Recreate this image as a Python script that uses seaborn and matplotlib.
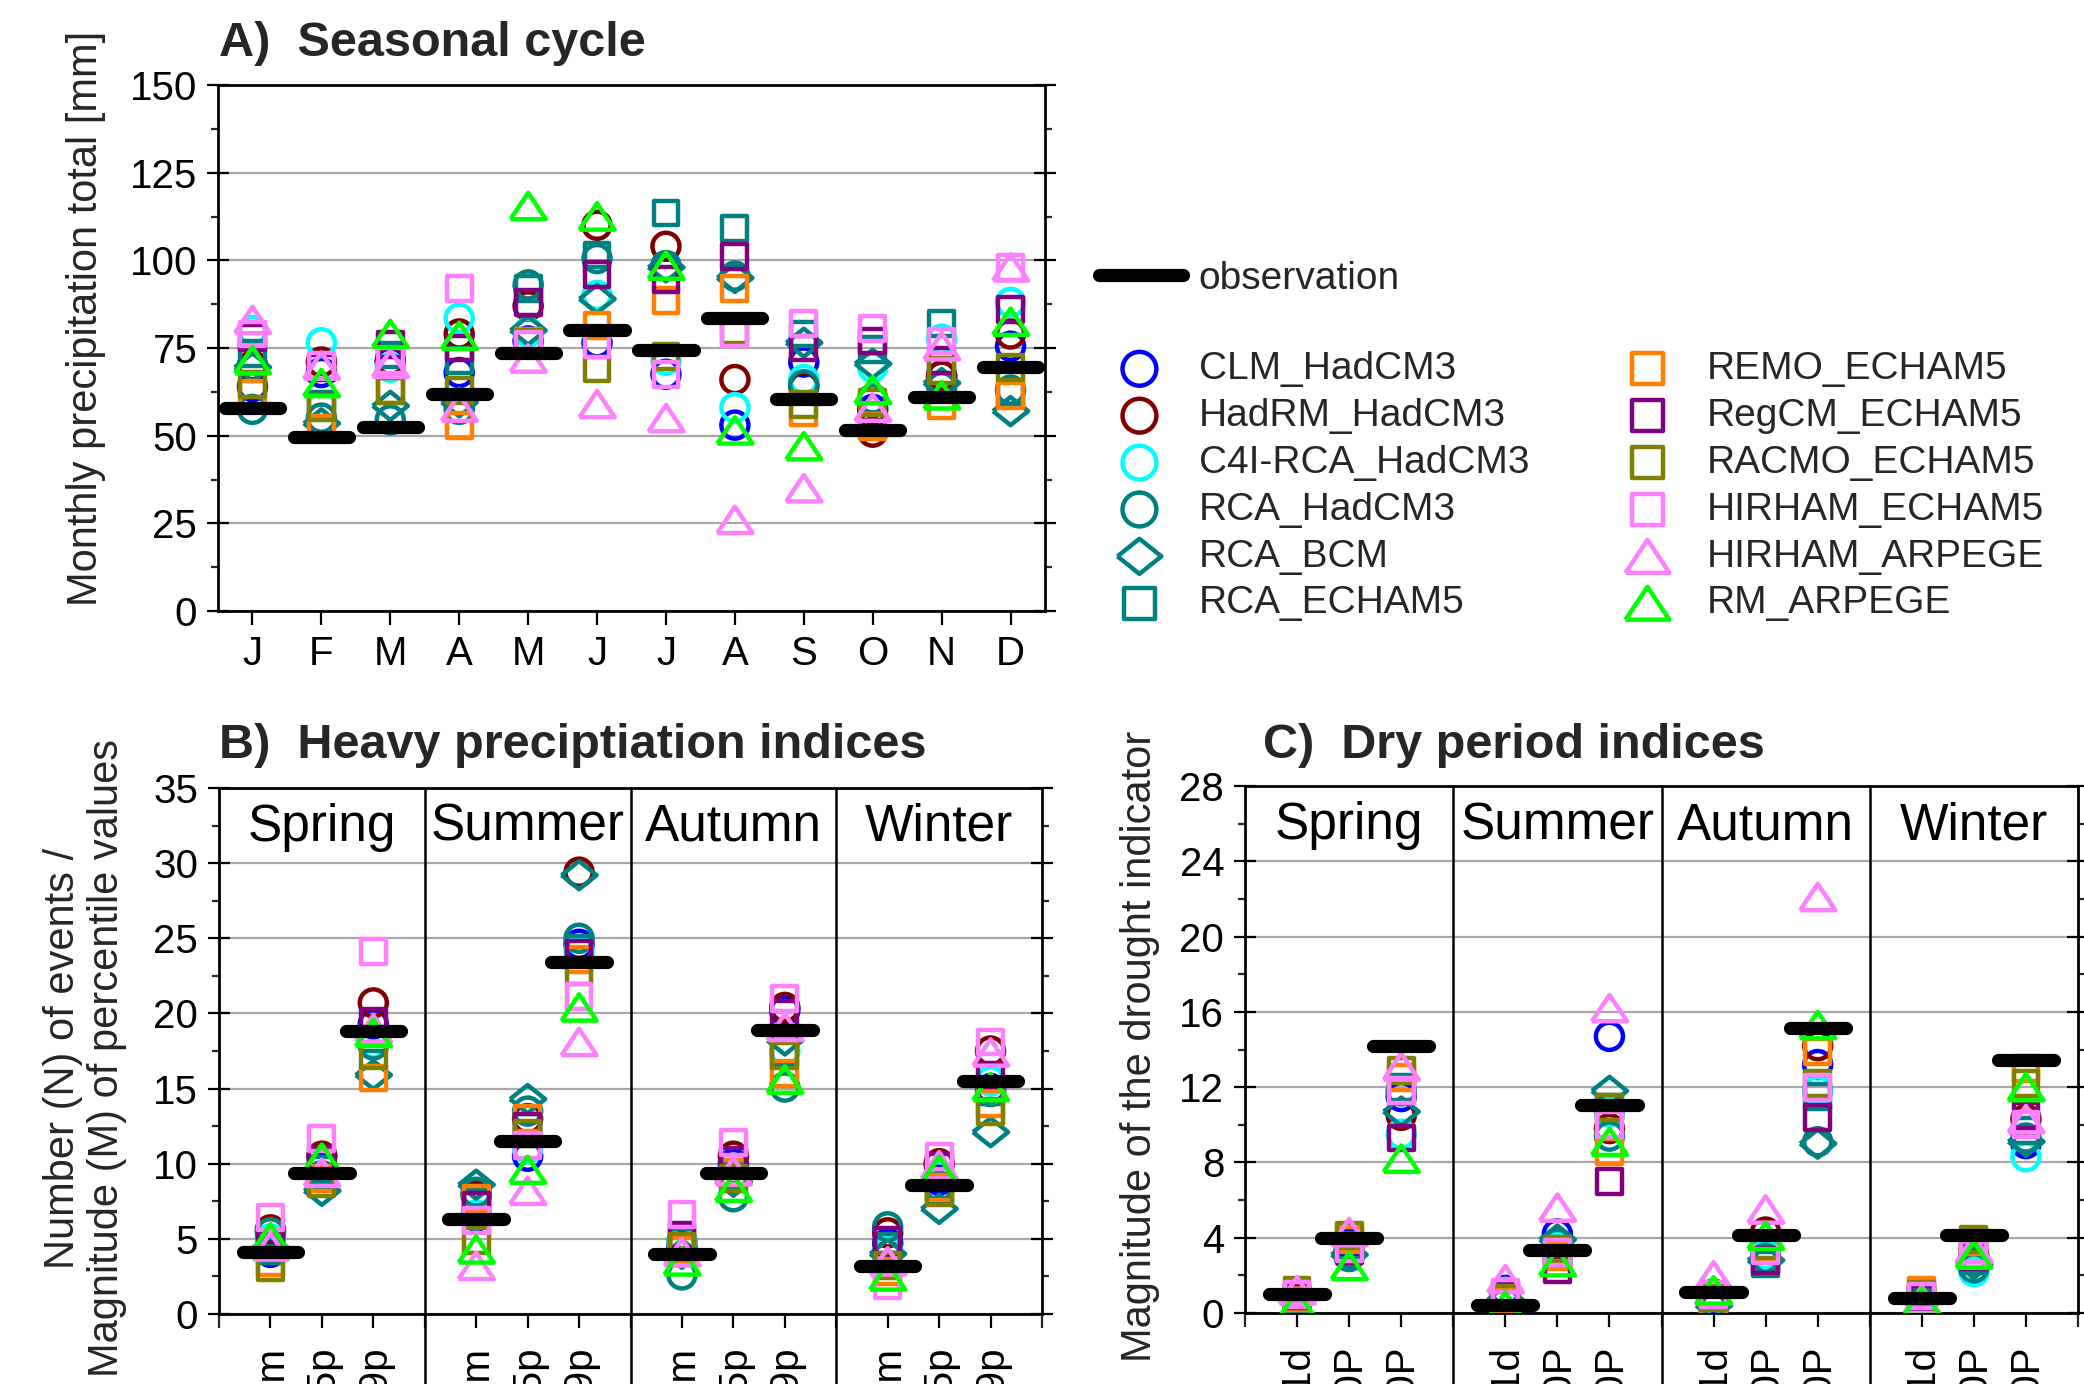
import numpy as np
import pandas as pd
import matplotlib
matplotlib.use("Agg")
import matplotlib.pyplot as plt
import seaborn as sns
from matplotlib.lines import Line2D
from matplotlib.markers import MarkerStyle
from matplotlib.ticker import MultipleLocator

# ---------------- data ----------------
models = ["CLM_HadCM3", "HadRM_HadCM3", "C4I-RCA_HadCM3", "RCA_HadCM3", "RCA_BCM",
          "RCA_ECHAM5", "REMO_ECHAM5", "RegCM_ECHAM5", "RACMO_ECHAM5",
          "HIRHAM_ECHAM5", "HIRHAM_ARPEGE", "RM_ARPEGE"]
model_colors = ["#0000FF", "#800000", "#00FFFF", "#008080", "#008080", "#008080",
                "#FF8000", "#800080", "#808000", "#FF80FF", "#FF80FF", "#00FF00"]
model_shapes = ["circle", "circle", "circle", "circle", "diamond", "square",
                "square", "square", "square", "square", "triangle", "triangle"]

months = ["J", "F", "M", "A", "M", "J", "J", "A", "S", "O", "N", "D"]
seasons = ["Spring", "Summer", "Autumn", "Winter"]
heavy_indices = ["N10mm", "M95p", "M99p"]
dry_indices = ["N1d", "M100P", "M200P"]

# A) monthly precipitation totals [mm], J..D
a_obs           = [58, 49.5, 52.5, 62, 73.5, 80, 74.5, 83.5, 60.5, 51.5, 61, 69.5]
a_clm_hadcm3    = [64, 68, 71, 68, 77, 76.5, 67.5, 53, 71, 57.5, 67, 75.5]
a_hadrm_hadcm3  = [70, 71, 71.5, 79, 87, 110, 104, 66, 64, 51, 67, 79]
a_c4i_hadcm3    = [80, 76.5, 69.5, 83.5, 79.5, 90, 71.5, 58, 66, 69.5, 77.5, 88]
a_rca_hadcm3    = [57.5, 55, 54.5, 57.5, 93, 100.5, 98.5, 95.5, 64.5, 60.5, 64, 63]
a_rca_bcm       = [69.5, 53.5, 58.5, 59.5, 80, 89, 98, 95, 76.5, 70.5, 65, 57]
a_rca_echam5    = [73.5, 59, 73, 71.5, 92, 101.5, 113.5, 109, 79, 74.5, 82, 62]
a_remo_echam5   = [62, 52, 63, 53, 77, 81.5, 88.5, 92, 56.5, 52.5, 58.5, 61.5]
a_regcm_echam5  = [78, 69.5, 76, 75, 88, 96, 94.5, 101, 75, 77, 71.5, 86]
a_racmo_echam5  = [64.5, 58, 63, 63, 76.5, 69, 72.5, 80, 59, 59.5, 68.5, 69.5]
a_hirham_echam5 = [79, 70, 71.5, 92, 76, 76, 67.5, 79, 82, 80.5, 77, 98]
a_hirham_arpege = [83, 70, 70.5, 58, 72, 59, 55, 26, 35, 58, 75.5, 98]
a_rm_arpege     = [71.5, 65, 79, 78.5, 115.5, 112.5, 98.5, 51.5, 47, 63, 61.5, 82.5]

# B) heavy precipitation indices: Spring(3), Summer(3), Autumn(3), Winter(3)
b_obs           = [4.1, 9.4, 18.8, 6.35, 11.5, 23.4, 4.0, 9.4, 18.9, 3.2, 8.6, 15.5]
b_clm_hadcm3    = [4.1, 9.8, 19.3, 6.5, 10.5, 24.6, 4.5, 10.0, 20.2, 4.7, 8.9, 15.0]
b_hadrm_hadcm3  = [5.6, 10.5, 20.7, 7.9, 13.0, 29.4, 4.8, 10.5, 20.4, 5.4, 10.0, 17.5]
b_c4i_hadcm3    = [5.0, 9.1, 18.0, 6.6, 11.0, 24.2, 4.8, 9.3, 17.5, 4.2, 9.2, 15.5]
b_rca_hadcm3    = [5.4, 9.2, 17.9, 8.1, 13.5, 25.0, 2.6, 7.8, 15.1, 5.8, 8.5, 14.8]
b_rca_bcm       = [4.4, 8.2, 15.9, 8.6, 14.3, 29.2, 4.0, 8.8, 18.2, 4.0, 7.0, 12.1]
b_rca_echam5    = [4.2, 9.6, 18.3, 7.4, 12.5, 24.3, 4.8, 9.3, 17.4, 4.5, 8.2, 14.8]
b_remo_echam5   = [3.4, 9.0, 15.7, 7.7, 13.0, 23.6, 4.2, 9.4, 16.0, 2.8, 8.4, 14.0]
b_regcm_echam5  = [4.6, 10.2, 19.5, 7.2, 12.5, 24.0, 5.2, 10.2, 20.0, 4.9, 9.8, 15.9]
b_racmo_echam5  = [3.1, 8.7, 17.2, 4.9, 12.0, 22.8, 4.5, 9.0, 17.2, 3.2, 8.1, 13.5]
b_hirham_echam5 = [6.4, 11.7, 24.1, 6.2, 11.2, 21.1, 6.6, 11.4, 21.0, 1.9, 10.5, 18.1]
b_hirham_arpege = [4.5, 9.4, 19.0, 3.2, 8.2, 18.1, 4.1, 9.5, 19.1, 3.5, 9.9, 17.4]
b_rm_arpege     = [5.1, 10.4, 18.7, 4.3, 9.6, 20.4, 3.5, 8.4, 15.6, 2.5, 9.6, 15.1]

# C) dry period indices: Spring(3), Summer(3), Autumn(3), Winter(3)
c_obs           = [1.0, 4.0, 14.2, 0.4, 3.35, 11.05, 1.1, 4.17, 15.15, 0.82, 4.15, 13.45]
c_clm_hadcm3    = [0.7, 3.7, 11.5, 1.2, 4.2, 14.7, 0.7, 3.5, 13.2, 0.6, 2.9, 9.0]
c_hadrm_hadcm3  = [0.8, 3.3, 10.5, 0.9, 3.3, 9.8, 1.0, 4.3, 14.2, 0.7, 3.0, 10.3]
c_c4i_hadcm3    = [0.6, 3.2, 9.5, 1.1, 3.5, 10.7, 0.6, 3.1, 11.8, 0.5, 2.2, 8.3]
c_rca_hadcm3    = [0.6, 3.0, 11.8, 1.0, 3.7, 9.4, 0.3, 2.9, 9.1, 0.5, 2.4, 9.3]
c_rca_bcm       = [0.7, 3.1, 10.7, 0.7, 3.9, 11.8, 0.4, 2.8, 9.0, 0.6, 2.6, 9.1]
c_rca_echam5    = [0.8, 3.6, 12.0, 0.8, 3.1, 10.9, 0.4, 2.6, 11.5, 0.7, 2.8, 9.7]
c_remo_echam5   = [0.8, 3.9, 12.5, 0.6, 3.0, 8.6, 0.5, 3.4, 13.9, 1.2, 3.8, 13.0]
c_regcm_echam5  = [0.9, 3.3, 9.3, 1.0, 2.3, 7.0, 0.9, 2.8, 10.4, 0.8, 3.0, 10.5]
c_racmo_echam5  = [1.2, 4.1, 12.9, 0.8, 3.4, 10.9, 0.8, 3.6, 12.2, 1.0, 3.9, 12.2]
c_hirham_echam5 = [1.0, 3.4, 11.8, 1.1, 3.2, 10.0, 1.0, 3.3, 12.0, 0.9, 3.1, 10.0]
c_hirham_arpege = [1.2, 4.3, 13.1, 1.8, 5.6, 16.2, 2.0, 5.5, 22.1, 0.7, 3.4, 10.3]
c_rm_arpege     = [0.5, 2.5, 8.2, 0.4, 2.7, 9.1, 1.2, 4.1, 15.3, 0.6, 3.1, 12.0]

panel_a = [a_clm_hadcm3, a_hadrm_hadcm3, a_c4i_hadcm3, a_rca_hadcm3, a_rca_bcm, a_rca_echam5,
           a_remo_echam5, a_regcm_echam5, a_racmo_echam5, a_hirham_echam5, a_hirham_arpege, a_rm_arpege]
panel_b = [b_clm_hadcm3, b_hadrm_hadcm3, b_c4i_hadcm3, b_rca_hadcm3, b_rca_bcm, b_rca_echam5,
           b_remo_echam5, b_regcm_echam5, b_racmo_echam5, b_hirham_echam5, b_hirham_arpege, b_rm_arpege]
panel_c = [c_clm_hadcm3, c_hadrm_hadcm3, c_c4i_hadcm3, c_rca_hadcm3, c_rca_bcm, c_rca_echam5,
           c_remo_echam5, c_regcm_echam5, c_racmo_echam5, c_hirham_echam5, c_hirham_arpege, c_rm_arpege]

# ---------------- style ----------------
sns.set_theme(style="white")
plt.rcParams["font.family"] = ["Liberation Sans", "DejaVu Sans"]

marker_styles = {
    "circle": "o",
    "square": "s",
    "triangle": MarkerStyle([(-1, -0.75), (1, -0.75), (0, 0.75), (-1, -0.75)]),
    "diamond": MarkerStyle([(-1, 0), (0, 0.8), (1, 0), (0, -0.8), (-1, 0)]),
}
marker_sizes = {"circle": 380, "square": 320, "triangle": 640, "diamond": 640}

W, H, DPI = 2084, 1384, 100
fig = plt.figure(figsize=(W / DPI, H / DPI), dpi=DPI)
fig.patch.set_facecolor("white")


def fig_rect(left, top, right, bottom):
    return [left / W, 1 - bottom / H, (right - left) / W, (bottom - top) / H]


axA = fig.add_axes(fig_rect(218, 85, 1045, 611))
axB = fig.add_axes(fig_rect(219, 788, 1042, 1314))
axC = fig.add_axes(fig_rect(1245, 786, 2078, 1313))

TICK_FS = 29
LABEL_FS = 30


def draw_panel(ax, xpos, series, obs, half):
    xpos = np.asarray(xpos, dtype=float)
    for name, color, shape, vals in zip(models, model_colors, model_shapes, series):
        df = pd.DataFrame({"x": xpos, "y": vals})
        sns.scatterplot(data=df, x="x", y="y", ax=ax, marker=marker_styles[shape],
                        s=marker_sizes[shape], facecolor="none", edgecolor=color,
                        linewidth=3.2, label=name, legend=False, zorder=3)
    ax.hlines(obs, xpos - half, xpos + half, colors="black", linewidth=9.5,
              capstyle="round", zorder=4)


def style_axes(ax, ymax, major, minor):
    ax.set_ylim(0, ymax)
    ax.yaxis.set_major_locator(MultipleLocator(major))
    ax.yaxis.set_minor_locator(MultipleLocator(minor))
    ax.grid(True, axis="y", which="major", color="#A8A8A8", linewidth=1.6)
    ax.grid(False, axis="x")
    ax.set_axisbelow(True)
    for sp in ax.spines.values():
        sp.set_visible(True)
        sp.set_color("black")
        sp.set_linewidth(2.0)
    ax.tick_params(axis="y", which="major", left=True, right=True, direction="inout",
                   length=16, width=1.6, pad=7, labelsize=TICK_FS, colors="black")
    ax.tick_params(axis="y", which="minor", left=True, right=True, direction="out",
                   length=5, width=1.6)
    ax.tick_params(axis="x", which="major", bottom=True, top=False, direction="out",
                   length=10, width=1.6, labelsize=TICK_FS, colors="black")
    ax.set_xlabel("")
    ax.set_ylabel("")


# Panel A
xa = np.arange(len(months))
draw_panel(axA, xa, panel_a, a_obs, 0.4)
style_axes(axA, 150, 25, 12.5)
axA.set_xlim(-0.5, len(months) - 0.5)
axA.set_xticks(xa, months)
axA.tick_params(axis="x", pad=7)

# Panels B and C
xs = np.array([4 * s + i + 1 for s in range(len(seasons)) for i in range(3)], dtype=float)
for ax, series, obs, ymax, major, labels in [
        (axB, panel_b, b_obs, 35, 5, heavy_indices),
        (axC, panel_c, c_obs, 28, 4, dry_indices)]:
    draw_panel(ax, xs, series, obs, 0.54)
    style_axes(ax, ymax, major, major / 2)
    ax.set_xlim(0, 4 * len(seasons))
    ax.set_xticks(xs, labels * len(seasons), rotation=90)
    ax.set_xticks(np.arange(0, 4 * len(seasons) + 1, 4), minor=True)
    ax.tick_params(axis="x", which="major", pad=12)
    ax.tick_params(axis="x", which="minor", bottom=True, direction="out", length=10, width=1.6)
    for s in range(1, len(seasons)):
        ax.axvline(4 * s, ymin=-0.3, ymax=1, color="black", linewidth=1.8, clip_on=False, zorder=5)
    for s, name in enumerate(seasons):
        ax.text(4 * s + 2, 0.925, name, transform=ax.get_xaxis_transform(),
                ha="center", va="center", fontsize=37, color="black")

# Titles
TITLE_FS = 35
fig.text(219 / W, 1 - 44 / H, "A)  Seasonal cycle", fontsize=TITLE_FS, fontweight="bold",
         ha="left", va="center")
fig.text(219 / W, 1 - 745 / H, "B)  Heavy preciptiation indices", fontsize=TITLE_FS,
         fontweight="bold", ha="left", va="center")
fig.text(1263 / W, 1 - 745 / H, "C)  Dry period indices", fontsize=TITLE_FS,
         fontweight="bold", ha="left", va="center")

# Y labels
fig.text(86 / W, 1 - 318 / H, "Monthly precipitation total [mm]", rotation=90,
         ha="center", va="center", fontsize=LABEL_FS)
fig.text(85 / W, 1 - 1058 / H, "Number (N) of events /\nMagnitude (M) of percentile values",
         rotation=90, ha="center", va="center", fontsize=LABEL_FS, linespacing=1.12,
         multialignment="center")
fig.text(1140 / W, 1 - 1046 / H, "Magnitude of the drought indicator", rotation=90,
         ha="center", va="center", fontsize=LABEL_FS)

# Legends
LEG_FS = 28
handles, labels = axA.get_legend_handles_labels()
leg_kw = dict(loc="upper left", frameon=False, borderpad=0, borderaxespad=0,
              handlelength=1.0, handletextpad=1.02, labelspacing=0.28, fontsize=LEG_FS,
              scatterpoints=1, markerscale=1.25)
fig.legend(handles[:6], labels[:6], bbox_to_anchor=(1120 / W, 1 - 351 / H), **leg_kw)
fig.legend(handles[6:], labels[6:], bbox_to_anchor=(1628 / W, 1 - 351 / H), **leg_kw)
obs_handle = Line2D([], [], color="black", linewidth=9.5, solid_capstyle="round")
fig.legend([obs_handle], ["observation"], loc="upper left", frameon=False, borderpad=0,
           borderaxespad=0, handlelength=2.16, handletextpad=0.4, fontsize=LEG_FS,
           bbox_to_anchor=(1099 / W, 1 - 261 / H))

fig.savefig("out.png", dpi=DPI)
